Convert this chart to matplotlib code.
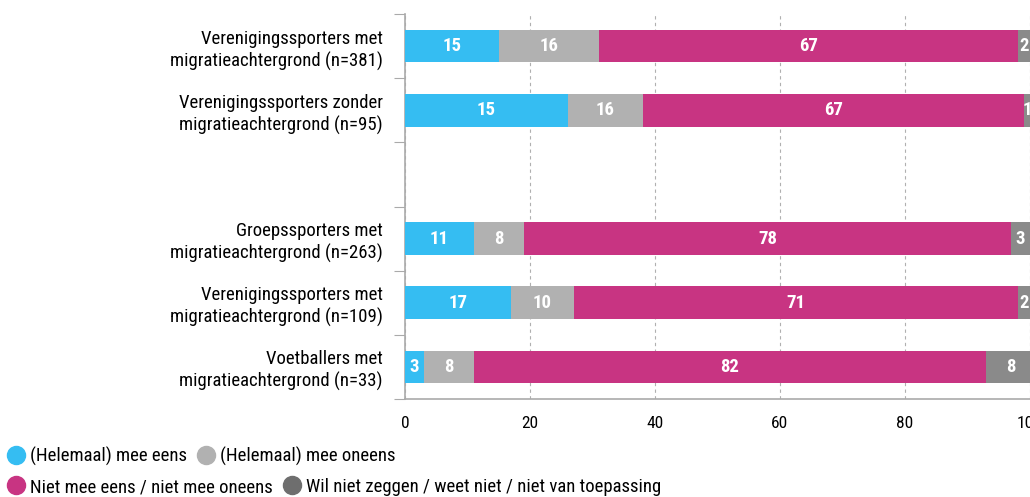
import numpy as np
import matplotlib.pyplot as plt
from matplotlib.lines import Line2D
from matplotlib import font_manager as fm

names = {f.name for f in fm.fontManager.ttflist}
if 'Roboto Condensed' in names:
    plt.rcParams['font.family'] = ['Roboto Condensed', 'DejaVu Sans']
elif 'Barlow Condensed' in names:
    plt.rcParams['font.family'] = ['Barlow Condensed', 'DejaVu Sans']
else:
    plt.rcParams['font.family'] = ['DejaVu Sans']
    plt.rcParams['font.stretch'] = 'condensed'

# categories top to bottom, '' is the empty gap row
categories = ['Verenigingssporters met\nmigratieachtergrond (n=381)',
              'Verenigingssporters zonder\nmigratieachtergrond (n=95)',
              '',
              'Groepssporters met\nmigratieachtergrond (n=263)',
              'Verenigingssporters met\nmigratieachtergrond (n=109)',
              'Voetballers met\nmigratieachtergrond (n=33)']

series = ['(Helemaal) mee eens', '(Helemaal) mee oneens',
          'Niet mee eens / niet mee oneens',
          'Wil niet zeggen / weet niet / niet van toepassing']
colors = ['#35bdf2', '#b1b1b1', '#c83482', '#8a8a8a']

# segment widths as drawn
widths = [[15, 16, 67, 2],
          [26, 12, 61, 1],
          [0, 0, 0, 0],
          [11, 8, 78, 3],
          [17, 10, 71, 2],
          [3, 8, 82, 8]]
# printed labels
labels = [['15', '16', '67', '2'],
          ['15', '16', '67', '1'],
          ['', '', '', ''],
          ['11', '8', '78', '3'],
          ['17', '10', '71', '2'],
          ['3', '8', '82', '8']]

fig = plt.figure(figsize=(10.3, 4.97), dpi=100)
ax = fig.add_axes([405/1030, 1 - 399/497, 625/1030, 385/497])

y = np.arange(len(categories))
left = np.zeros(len(categories))
w = np.array(widths, dtype=float)
for j in range(4):
    ax.barh(y, w[:, j], left=left, height=0.51, color=colors[j], zorder=3)
    for i in range(len(categories)):
        if labels[i][j]:
            ax.text(left[i] + w[i, j] / 2, y[i], labels[i][j], ha='center', va='center',
                    color='white', fontsize=13.5, fontweight='bold', zorder=4)
    left += w[:, j]

ax.set_xlim(0, 100)
ax.set_ylim(len(categories) - 0.5, -0.5)
ax.set_xticks([0, 20, 40, 60, 80, 100])
ax.set_xticklabels(['0', '20', '40', '60', '80', '100'], fontsize=12.5)
ax.tick_params(axis='x', length=0, pad=12)
ax.set_yticks(np.arange(len(categories) + 1) - 0.5)
ax.set_yticklabels([])
ax.set_yticks(y, minor=True)
ax.set_yticklabels(categories, minor=True, fontsize=13.5, linespacing=1.25)
ax.tick_params(axis='y', which='minor', length=0, pad=16)
ax.tick_params(axis='y', which='major', length=8, color='#aaaaaa')
for lbl in ax.get_yticklabels(minor=True):
    lbl.set_horizontalalignment('right')

ax.grid(axis='x', linestyle=(0, (3, 3)), color='#b0b0b0', linewidth=0.8, zorder=0)
for s in ['top', 'right']:
    ax.spines[s].set_visible(False)
for s in ['left', 'bottom']:
    ax.spines[s].set_color('#aaaaaa')
    ax.spines[s].set_linewidth(1.2)

def handle(c):
    return Line2D([], [], marker='o', linestyle='', markersize=13, color=c)

legend_kw = dict(ncol=2, loc='center left', frameon=False, fontsize=13.5,
                 handletextpad=0.25, columnspacing=0.5, borderpad=0,
                 borderaxespad=0, handlelength=1.0)
leg1 = fig.legend([handle(colors[0]), handle(colors[1])], series[:2],
                  bbox_to_anchor=(7/1030, 1 - 456/497), **legend_kw)
leg2 = fig.legend([handle(colors[2]), handle('#6e6e6e')], series[2:],
                  bbox_to_anchor=(7/1030, 1 - 487/497), **legend_kw)

fig.savefig('out.png', dpi=100)
